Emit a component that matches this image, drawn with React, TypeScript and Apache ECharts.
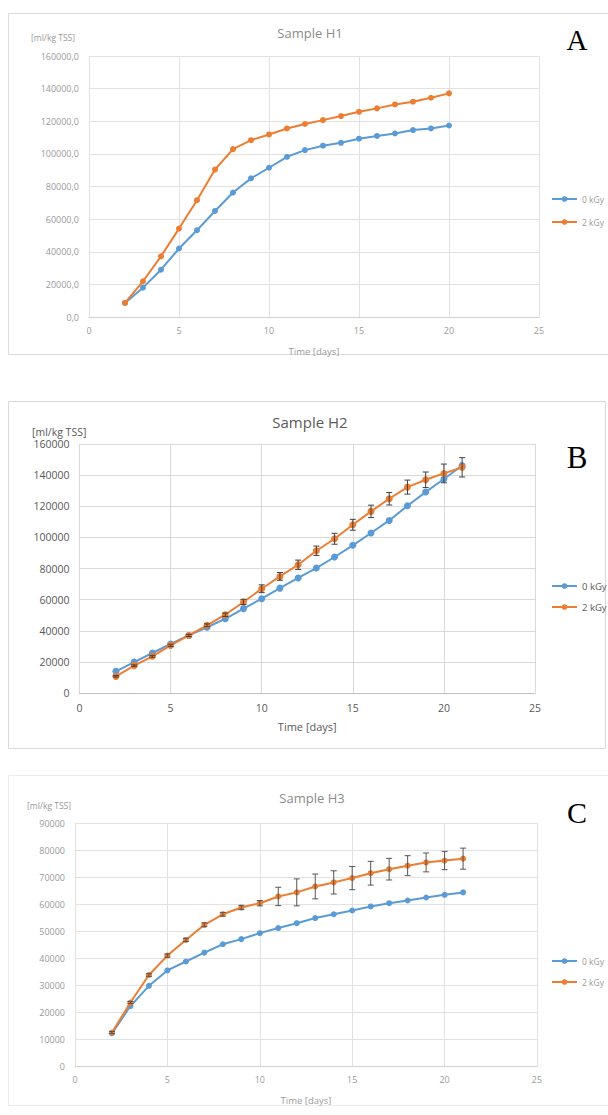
import React, { useEffect, useRef } from "react";
import * as echarts from "echarts";

// ---------- Data ----------
const daysA = [2, 3, 4, 5, 6, 7, 8, 9, 10, 11, 12, 13, 14, 15, 16, 17, 18, 19, 20];
const h1Blue = [8600, 18000, 29000, 42000, 53200, 65000, 76300, 85000, 91500, 98200, 102300, 105000, 106800, 109300, 111000, 112500, 114600, 115600, 117400];
const h1Orange = [8600, 21900, 37200, 54200, 71600, 90400, 102900, 108400, 111900, 115600, 118300, 120700, 123200, 125800, 127900, 130300, 132000, 134400, 137100];

const daysBC = [2, 3, 4, 5, 6, 7, 8, 9, 10, 11, 12, 13, 14, 15, 16, 17, 18, 19, 20, 21];
const h2Blue = [13900, 19900, 25700, 31500, 37000, 42200, 47700, 54200, 60600, 67400, 73900, 80300, 87400, 94900, 102800, 110900, 120300, 129100, 137500, 146200];
const h2Orange = [10700, 17600, 23600, 30600, 37000, 43500, 50300, 58500, 67000, 74900, 82400, 91400, 99100, 108100, 116700, 124800, 132300, 137000, 141100, 145000];
const h2OrangeErr = [500, 500, 600, 700, 700, 900, 1100, 1700, 2500, 2500, 3000, 3000, 3500, 3500, 4000, 4000, 4500, 5000, 6000, 6200];

const h3Blue = [12100, 22200, 29700, 35400, 38700, 42000, 45100, 47000, 49200, 51100, 52900, 54800, 56200, 57600, 59100, 60300, 61300, 62400, 63400, 64300];
const h3Orange = [12400, 23500, 33700, 40900, 46700, 52300, 56200, 58700, 60300, 62800, 64300, 66500, 68000, 69600, 71400, 72900, 74200, 75400, 76100, 76800];
const h3OrangeErr = [400, 400, 500, 600, 600, 700, 700, 800, 1000, 3400, 5000, 4600, 4300, 4300, 4400, 4000, 3700, 3500, 3400, 3900];

const seriesNames = ["0 kGy", "2 kGy"];
const titles = ["Sample H1", "Sample H2", "Sample H3"];
const panelLetters = ["A", "B", "C"];
const unitLabel = "[ml/kg TSS]";
const xAxisName = "Time [days]";

const BLUE = "#5B9BD5";
const ORANGE = "#ED7D31";
const FONT = "'Open Sans', 'Noto Sans', sans-serif";

function pairs(xs: number[], ys: number[]) {
  return xs.map((x, i) => [x, ys[i]]);
}
function errData(xs: number[], ys: number[], es: number[]) {
  return xs.map((x, i) => [x, ys[i] - es[i], ys[i] + es[i]]);
}

const errRender = (color: string) => (params: any, api: any) => {
  const x = api.value(0);
  const lo = api.value(1);
  const hi = api.value(2);
  const p1 = api.coord([x, hi]);
  const p2 = api.coord([x, lo]);
  const w = 3;
  const st = { stroke: color, lineWidth: 1 };
  return {
    type: "group",
    children: [
      { type: "line", shape: { x1: p1[0], y1: p1[1], x2: p2[0], y2: p2[1] }, style: st },
      { type: "line", shape: { x1: p1[0] - w, y1: p1[1], x2: p1[0] + w, y2: p1[1] }, style: st },
      { type: "line", shape: { x1: p2[0] - w, y1: p2[1], x2: p2[0] + w, y2: p2[1] }, style: st },
    ],
  };
};

export default function App() {
  const ref = useRef<HTMLDivElement>(null);
  useEffect(() => {
    if (!ref.current) return;
    const chart = echarts.init(ref.current, null, { renderer: "svg" });

    const grids = [
      { left: 89, top: 56, width: 450, height: 261 },
      { left: 79.5, top: 444, width: 455.5, height: 249 },
      { left: 75, top: 823, width: 462, height: 243 },
    ];
    const txt = ["#9a9a9a", "#595959", "#9a9a9a"];
    const gridCol = ["#e2e2e2", "#d9d9d9", "#e2e2e2"];
    const yMax = [160000, 160000, 90000];
    const yInt = [20000, 20000, 10000];
    const lblSize = [9, 10.5, 9];
    const nameGaps = [29, 28, 29];

    const xAxis = grids.map((_, i) => ({
      type: "value",
      gridIndex: i,
      min: 0,
      max: 25,
      interval: 5,
      name: xAxisName,
      nameLocation: "middle",
      nameGap: nameGaps[i],
      nameTextStyle: { color: txt[i], fontSize: i === 1 ? 11 : 9.5, fontFamily: FONT },
      axisLine: { show: true, lineStyle: { color: i === 1 ? "#bfbfbf" : "#d0d0d0" } },
      axisTick: { show: false },
      axisLabel: { color: txt[i], fontSize: lblSize[i], fontFamily: FONT, margin: 9 },
      splitLine: { show: true, lineStyle: { color: gridCol[i] } },
    }));
    const yAxis = grids.map((_, i) => ({
      type: "value",
      gridIndex: i,
      min: 0,
      max: yMax[i],
      interval: yInt[i],
      axisLine: { show: false },
      axisTick: { show: false },
      axisLabel: {
        color: txt[i],
        fontSize: lblSize[i],
        fontFamily: FONT,
        margin: 10,
        formatter: i === 0 ? (v: number) => `${v},0` : (v: number) => `${v}`,
      },
      splitLine: { show: true, lineStyle: { color: gridCol[i] } },
    }));

    const lineSeries = (name: string, color: string, data: number[][], gi: number, sym: number, z: number) => ({
      type: "line",
      name,
      xAxisIndex: gi,
      yAxisIndex: gi,
      data,
      symbol: "circle",
      symbolSize: sym,
      color,
      lineStyle: { color, width: 2 },
      itemStyle: { color },
      z,
    });

    const series: any[] = [
      lineSeries(seriesNames[0], BLUE, pairs(daysA, h1Blue), 0, 6, 2),
      lineSeries(seriesNames[1], ORANGE, pairs(daysA, h1Orange), 0, 6, 3),
      lineSeries(seriesNames[0], BLUE, pairs(daysBC, h2Blue), 1, 7, 2),
      lineSeries(seriesNames[1], ORANGE, pairs(daysBC, h2Orange), 1, 7, 3),
      {
        type: "custom",
        name: "errB",
        xAxisIndex: 1,
        yAxisIndex: 1,
        data: errData(daysBC, h2Orange, h2OrangeErr),
        encode: { x: 0, y: [1, 2] },
        renderItem: errRender("#404040"),
        z: 5,
      },
      lineSeries(seriesNames[0], BLUE, pairs(daysBC, h3Blue), 2, 6, 2),
      lineSeries(seriesNames[1], ORANGE, pairs(daysBC, h3Orange), 2, 6, 3),
      {
        type: "custom",
        name: "errC",
        xAxisIndex: 2,
        yAxisIndex: 2,
        data: errData(daysBC, h3Orange, h3OrangeErr),
        encode: { x: 0, y: [1, 2] },
        renderItem: errRender("#555555"),
        z: 5,
      },
    ];

    const legendTops = [187, 574, 949];
    const legendGaps = [9, 7, 7];
    const legend = legendTops.map((top, i) => ({
      left: 546,
      top,
      orient: "vertical",
      itemWidth: 25,
      itemHeight: 7,
      itemGap: legendGaps[i],
      selectedMode: false,
      data: seriesNames,
      textStyle: { color: txt[i], fontSize: i === 1 ? 9.5 : 8.5, fontFamily: FONT, lineHeight: 14 },
    }));

    const titleY = [33, 422, 798];
    const titleX = [310, 310, 312];
    const unitY = [37, 432, 805];
    const unitX = [31, 32, 27];
    const letterY = [40, 457, 812];
    const letterSize = [29, 31, 30];

    const graphic: any[] = [
      { type: "rect", shape: { x: 8.5, y: 13.5, width: 640, height: 341 }, style: { fill: "none", stroke: "#dcdcdc", lineWidth: 1 }, silent: true },
      { type: "rect", shape: { x: 8.5, y: 401.5, width: 597, height: 347 }, style: { fill: "none", stroke: "#d9d9d9", lineWidth: 1 }, silent: true },
      { type: "rect", shape: { x: 8.5, y: 775.5, width: 640, height: 330 }, style: { fill: "none", stroke: "#ececec", lineWidth: 1 }, silent: true },
    ];
    for (let i = 0; i < 3; i++) {
      graphic.push({
        type: "text",
        x: titleX[i],
        y: titleY[i],
        style: { text: titles[i], fill: i === 1 ? "#595959" : "#8c8c8c", font: `${i === 1 ? 15 : 13}px ${FONT}`, textAlign: "center", textVerticalAlign: "middle" },
        silent: true,
      });
      graphic.push({
        type: "text",
        x: unitX[i],
        y: unitY[i],
        style: { text: unitLabel, fill: txt[i], font: `${i === 1 ? 10.5 : 8.5}px ${FONT}`, textAlign: "left", textVerticalAlign: "middle" },
        silent: true,
      });
      graphic.push({
        type: "text",
        x: 577,
        y: letterY[i],
        style: { text: panelLetters[i], fill: "#000", font: `${letterSize[i]}px 'Liberation Serif', 'Times New Roman', serif`, textAlign: "center", textVerticalAlign: "middle" },
        silent: true,
      });
    }

    chart.setOption({
      animation: false,
      backgroundColor: "#ffffff",
      grid: grids,
      xAxis,
      yAxis,
      series,
      legend,
      graphic,
    } as any);
    return () => chart.dispose();
  }, []);

  return (
    <div
      ref={ref}
      style={{ position: "absolute", left: 0, top: 0, width: 608, height: 1115, background: "#fff" }}
    />
  );
}
